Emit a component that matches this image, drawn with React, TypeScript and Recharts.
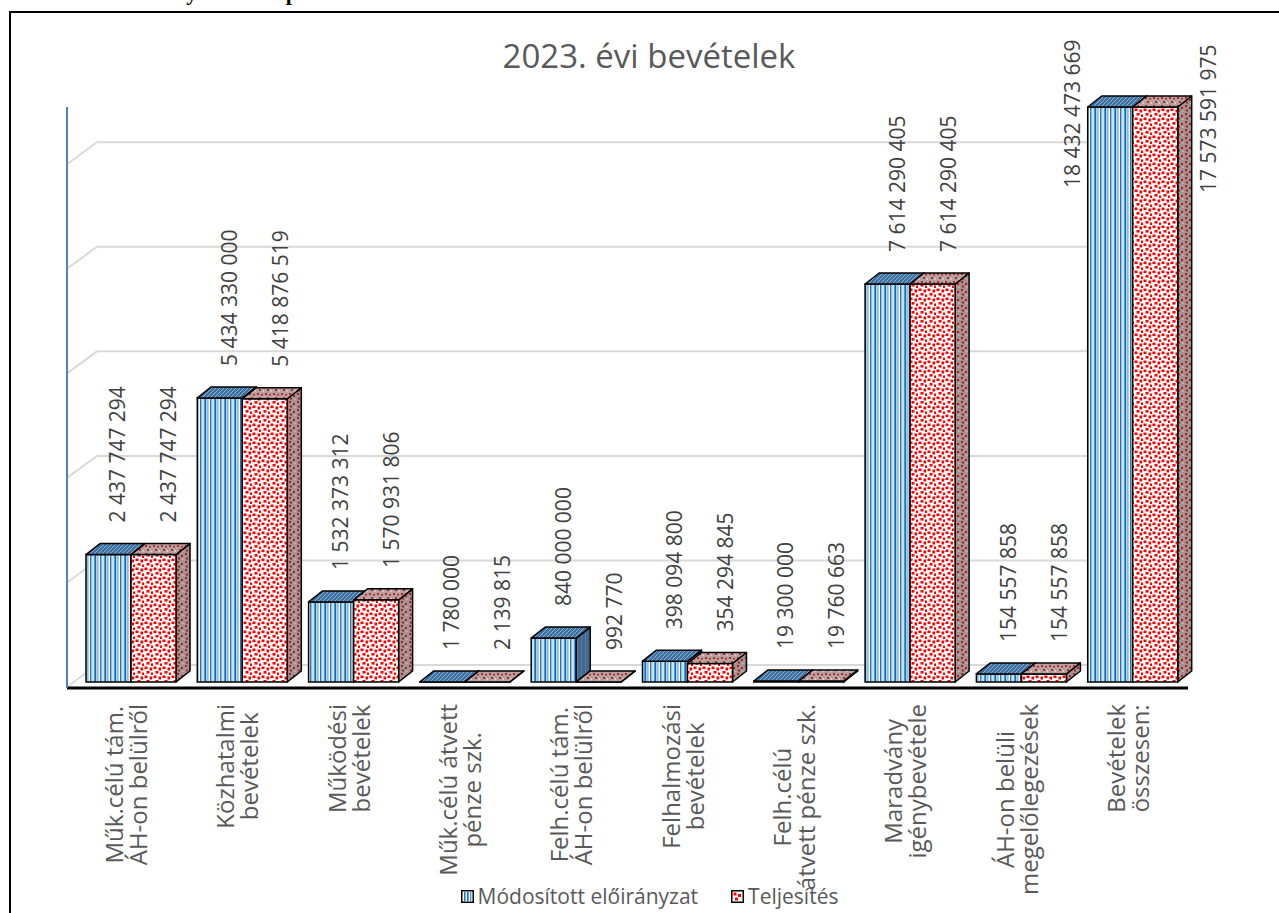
import React from 'react';
import { BarChart, Bar, XAxis, YAxis, ReferenceLine, LabelList, Legend } from 'recharts';

// ---------- data ----------
const categories = [
  'Műk.célú tám. ÁH-on belülről',
  'Közhatalmi bevételek',
  'Működési bevételek',
  'Műk.célú átvett pénze szk.',
  'Felh.célú tám. ÁH-on belülről',
  'Felhalmozási bevételek',
  'Felh.célú átvett pénze szk.',
  'Maradvány igénybevétele',
  'ÁH-on belüli megelőlegezések',
  'Bevételek összesen:',
];
const categoryLines: string[][] = [
  ['Műk.célú tám.', 'ÁH-on belülről'],
  ['Közhatalmi', 'bevételek'],
  ['Működési', 'bevételek'],
  ['Műk.célú átvett', 'pénze szk.'],
  ['Felh.célú tám.', 'ÁH-on belülről'],
  ['Felhalmozási', 'bevételek'],
  ['Felh.célú', 'átvett pénze szk.'],
  ['Maradvány', 'igénybevétele'],
  ['ÁH-on belüli', 'megelőlegezések'],
  ['Bevételek', 'összesen:'],
];
const plannedValues = [
  2437747294, 5434330000, 1532373312, 1780000, 840000000,
  398094800, 19300000, 7614290405, 154557858, 18432473669,
];
const actualValues = [
  2437747294, 5418876519, 1570931806, 2139815, 992770,
  354294845, 19760663, 7614290405, 154557858, 17573591975,
];
const seriesNames = ['Módosított előirányzat', 'Teljesítés'];
const gridValues = [0, 2e9, 4e9, 6e9, 8e9, 10e9];
const AXIS_MAX = 11e9;
const AXIS_MIN = -0.115e9; // floor gap under the 3D bars
const TITLE = '2023. évi bevételek';
const TOP_TEXT = 'a módosított előirányzathoz képest: forintban.';

const data = categories.map((name, i) => ({
  name,
  plan: plannedValues[i],
  actual: actualValues[i],
  planBar: Math.min(plannedValues[i], AXIS_MAX),
  actualBar: Math.min(actualValues[i], AXIS_MAX),
}));

// ---------- styling ----------
const FONT = "'Open Sans', 'DejaVu Sans', sans-serif";
const W = 1279;
const H = 913;
const DX = 14;
const DY = -11;
const CAT_FONT = 24;
const LABEL_FONT = 21;

const fmt = (v: number) => String(Math.round(v)).replace(/\B(?=(\d{3})+(?!\d))/g, ' ');

let ctx: CanvasRenderingContext2D | null = null;
const textWidth = (s: string, size: number) => {
  if (!ctx && typeof document !== 'undefined') ctx = document.createElement('canvas').getContext('2d');
  if (!ctx) return s.length * size * 0.55;
  ctx.font = `${size}px 'Open Sans'`;
  return ctx.measureText(s).width;
};

const make3DShape = (front: string, top: string, side: string) => (p: any) => {
  const { x, y, width, height } = p;
  if (x == null || y == null) return <g />;
  const h = Math.max(Number(height) || 0, 0);
  const t = y;
  const b = y + h;
  const r = x + width;
  return (
    <g>
      <path
        d={`M${r},${t} L${r + DX},${t + DY} L${r + DX},${b + DY} L${r},${b} Z`}
        fill={`url(#${side})`}
        stroke="#000"
        strokeWidth={1.5}
        strokeLinejoin="round"
      />
      <rect x={x} y={t} width={width} height={h} fill={`url(#${front})`} stroke="#000" strokeWidth={1.5} />
      <path
        d={`M${x},${t} L${x + DX},${t + DY} L${r + DX},${t + DY} L${r},${t} Z`}
        fill={`url(#${top})`}
        stroke="#000"
        strokeWidth={1.5}
        strokeLinejoin="round"
      />
    </g>
  );
};

const blueShape = make3DShape('pBlueFront', 'pBlueTop', 'pBlueSide');
const redShape = make3DShape('pRedFront', 'pRedTop', 'pRedSide');

const makeLabel = (series: number) => (p: any) => {
  const vb = p.viewBox ?? p;
  const x = vb.x ?? p.x;
  const y = vb.y ?? p.y;
  const width = vb.width ?? p.width;
  const value = Number(p.value);
  if (x == null || y == null || !isFinite(value)) return null;
  let lx: number;
  let ly: number;
  if (value > AXIS_MAX) {
    lx = series === 0 ? x - 16 : x + width + 30;
    ly = y + (series === 0 ? 81 : 86);
  } else {
    lx = x + width / 2 + (series === 0 ? 9 : 15);
    ly = y - 32;
  }
  return (
    <text
      key={`lbl-${series}-${p.index}`}
      x={lx}
      y={ly}
      transform={`rotate(-90 ${lx} ${ly})`}
      textAnchor="start"
      dominantBaseline="central"
      fontFamily={FONT}
      fontSize={LABEL_FONT}
      fill="#404040"
    >
      {fmt(value)}
    </text>
  );
};

const CategoryTick = (p: any) => {
  const { x, y, payload } = p;
  const idx = categories.indexOf(payload?.value);
  const lines = idx >= 0 ? categoryLines[idx] : [String(payload?.value ?? '')];
  const maxLen = Math.max(...lines.map((l) => textWidth(l, CAT_FONT)));
  const cy = y + maxLen / 2;
  return (
    <g>
      {lines.map((l, i) => {
        const lx = x - 17 + i * 24;
        return (
          <text
            key={i}
            x={lx}
            y={cy}
            transform={`rotate(-90 ${lx} ${cy})`}
            textAnchor="middle"
            dominantBaseline="central"
            fontFamily={FONT}
            fontSize={CAT_FONT}
            fill="#595959"
          >
            {l}
          </text>
        );
      })}
    </g>
  );
};

const renderGridLine = (p: any) => {
  const { x1, x2, y1 } = p;
  if (x1 == null || y1 == null) return <g />;
  return (
    <path
      d={`M${x1},${y1 + 5} L${x1 + 30},${y1 - 17} L${x2},${y1 - 17}`}
      stroke="#d9d9d9"
      strokeWidth={2}
      fill="none"
    />
  );
};

const LegendIcon = ({ series }: { series: number }) =>
  series === 0 ? (
    <svg width={13} height={13} style={{ display: 'block' }}>
      <rect x={0.75} y={0.75} width={11.5} height={11.5} fill="#fff" stroke="#000" strokeWidth={1.5} />
      <rect x={3} y={2} width={1.6} height={9} fill="#2e75b6" />
      <rect x={6} y={2} width={1.6} height={9} fill="#0070c0" />
      <rect x={9} y={2} width={1.4} height={9} fill="#5b9bd5" />
    </svg>
  ) : (
    <svg width={13} height={13} style={{ display: 'block' }}>
      <rect x={0.75} y={0.75} width={11.5} height={11.5} fill="#fff" stroke="#000" strokeWidth={1.5} />
      <rect x={2.5} y={2.5} width={3} height={3} fill="#ff0000" />
      <rect x={7} y={4} width={3} height={3} fill="#ff0000" />
      <rect x={4} y={7.5} width={3} height={3} fill="#ff0000" />
    </svg>
  );

const LegendContent = () => (
  <div
    style={{
      width: W,
      height: 34,
      display: 'flex',
      justifyContent: 'center',
      alignItems: 'center',
      fontFamily: FONT,
      fontSize: 21,
      color: '#595959',
      paddingLeft: 20,
      boxSizing: 'border-box',
    }}
  >
    {seriesNames.map((n, i) => (
      <div key={n} style={{ display: 'flex', alignItems: 'center', marginRight: i === 0 ? 33 : 0 }}>
        <div style={{ marginRight: 4 }}>
          <LegendIcon series={i} />
        </div>
        <span style={{ whiteSpace: 'nowrap' }}>{n}</span>
      </div>
    ))}
  </div>
);

export default function App() {
  return (
    <div
      style={{
        position: 'fixed',
        left: 0,
        top: 0,
        width: W,
        height: H,
        overflow: 'hidden',
        background: '#fff',
      }}
    >
      <div
        style={{
          position: 'absolute',
          left: -2,
          top: -18,
          fontFamily: "'Liberation Serif', 'DejaVu Serif', serif",
          fontSize: 22,
          fontWeight: 'bold',
          color: '#000',
          whiteSpace: 'nowrap',
          lineHeight: '22px',
        }}
      >
        {TOP_TEXT}
      </div>
      <div
        style={{
          position: 'absolute',
          left: 9,
          top: 11,
          width: W,
          height: H,
          borderTop: '2px solid #000',
          borderLeft: '2px solid #000',
        }}
      />
      <div
        style={{
          position: 'absolute',
          left: 0,
          top: 33,
          width: 1298,
          textAlign: 'center',
          fontFamily: FONT,
          fontSize: 33,
          lineHeight: '45px',
          color: '#595959',
          whiteSpace: 'nowrap',
        }}
      >
        {TITLE}
      </div>
      <div style={{ position: 'absolute', left: 0, top: 0 }}>
        <BarChart
          width={W}
          height={H}
          data={data}
          margin={{ top: 107, right: 91, bottom: 0, left: 66 }}
          barGap={0}
          barSize={45}
        >
          <defs>
            <pattern id="pBlueFront" patternUnits="userSpaceOnUse" width="10" height="10">
              <rect width="10" height="10" fill="#ffffff" />
              <rect x="0" width="1.5" height="10" fill="#2e75b6" />
              <rect x="2.5" width="1" height="10" fill="#9dc3e6" />
              <rect x="4.3" width="2" height="10" fill="#0070c0" />
              <rect x="7.3" width="1.2" height="10" fill="#5b9bd5" />
            </pattern>
            <pattern id="pBlueTop" patternUnits="userSpaceOnUse" width="4" height="4">
              <rect width="4" height="4" fill="#3f72a0" />
              <path d="M0,4 L4,0" stroke="#9cc0e0" strokeWidth="0.8" />
            </pattern>
            <pattern id="pBlueSide" patternUnits="userSpaceOnUse" width="4" height="4">
              <rect width="4" height="4" fill="#42698f" />
              <rect x="1" width="1" height="4" fill="#557da3" />
            </pattern>
            <pattern id="pRedFront" patternUnits="userSpaceOnUse" width="9" height="9">
              <rect width="9" height="9" fill="#ffffff" />
              <rect x="0.5" y="0.5" width="3" height="2.6" fill="#ff0000" />
              <rect x="5.5" y="1.5" width="2.6" height="3" fill="#ff0000" />
              <rect x="2.5" y="5" width="3" height="2.6" fill="#ff0000" />
              <rect x="7" y="6.5" width="2" height="2.5" fill="#ff0000" />
            </pattern>
            <pattern id="pRedTop" patternUnits="userSpaceOnUse" width="8" height="8">
              <rect width="8" height="8" fill="#b3a2a2" />
              <rect x="1" y="1" width="2" height="2" fill="#c62020" />
              <rect x="5" y="2" width="2" height="1.5" fill="#c62020" />
              <rect x="3" y="5" width="2" height="2" fill="#c62020" />
              <rect x="6.5" y="6" width="1.5" height="2" fill="#d8caca" />
            </pattern>
            <pattern id="pRedSide" patternUnits="userSpaceOnUse" width="8" height="8">
              <rect width="8" height="8" fill="#a39292" />
              <rect x="1" y="1" width="2" height="2" fill="#b51c1c" />
              <rect x="5" y="3" width="2" height="2" fill="#b51c1c" />
              <rect x="2" y="5.5" width="2" height="2" fill="#b51c1c" />
              <rect x="6" y="6.5" width="1.5" height="1.5" fill="#c9b9b9" />
            </pattern>
          </defs>
          {gridValues.map((v) => (
            <ReferenceLine
              key={`g${v}`}
              y={v}
              stroke="#d9d9d9"
              strokeWidth={2}
              shape={renderGridLine}
              zIndex={-100}
            />
          ))}
          <XAxis
            dataKey="name"
            interval={0}
            tickLine={false}
            tickSize={0}
            tickMargin={16}
            tick={CategoryTick}
            axisLine={{ stroke: '#000', strokeWidth: 3 }}
            height={191}
            padding={{ left: 8, right: 0 }}
          />
          <YAxis
            type="number"
            domain={[AXIS_MIN, AXIS_MAX]}
            tick={false}
            tickLine={false}
            width={1}
            axisLine={{ stroke: '#4f81bd', strokeWidth: 2 }}
          />
          <Legend
            verticalAlign="bottom"
            height={34}
            content={LegendContent}
            wrapperStyle={{ left: 0, width: W, height: 34 }}
          />
          <Bar dataKey="planBar" name={seriesNames[0]} fill="#2e75b6" shape={blueShape} isAnimationActive={false}>
            <LabelList dataKey="plan" content={makeLabel(0)} />
          </Bar>
          <Bar dataKey="actualBar" name={seriesNames[1]} fill="#ff0000" shape={redShape} isAnimationActive={false}>
            <LabelList dataKey="actual" content={makeLabel(1)} />
          </Bar>
        </BarChart>
      </div>
    </div>
  );
}
